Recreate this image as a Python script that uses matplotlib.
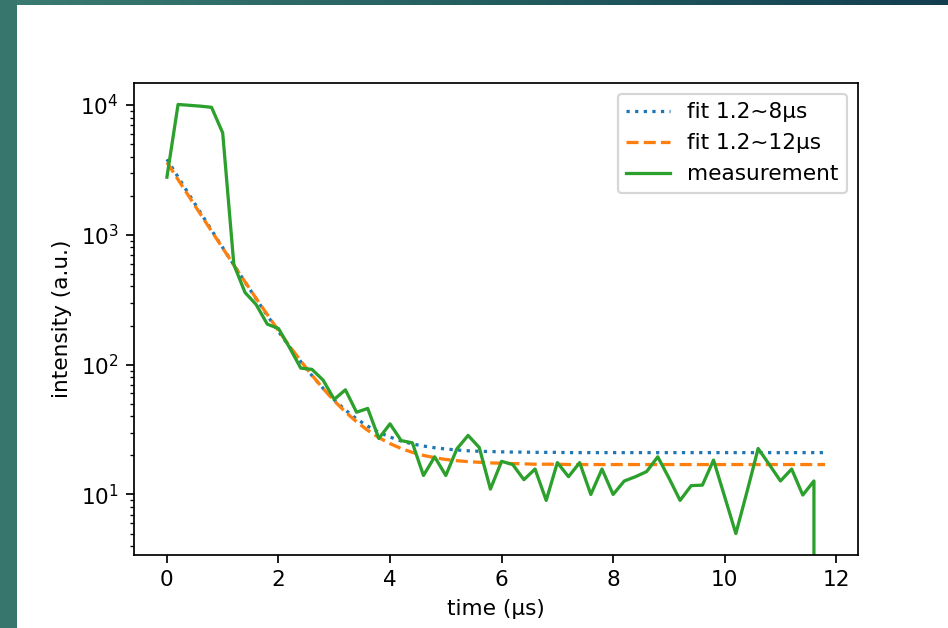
import numpy as np
import matplotlib
matplotlib.use("Agg")
import matplotlib.pyplot as plt
from matplotlib.patches import Rectangle

# time grid of the measurement (µs), 0.2 µs steps
time = np.linspace(0, 11.8, 60)

measurement = [2780, 10100, 9950, 9800, 9600, 6100, 590, 360, 290, 205,
               190, 135, 94, 92, 76, 54, 64, 43, 46, 27,
               35, 26, 25, 14, 19.5, 14, 22.5, 28.5, 23, 11,
               18, 17, 13, 15.7, 9, 17.6, 13.7, 17.6, 10, 15.7,
               10, 12.7, 13.7, 15, 19.5, 13.4, 9, 11.7, 11.8, 18.4,
               9.6, 5, 10.5, 22.6, 17, 12.7, 15.7, 9.9, 12.7, 0]

fit_8 = [3821, 2787, 2035, 1487, 1088, 798, 587, 433, 321, 239,
         180, 137, 105.3, 82.4, 65.7, 53.5, 44.7, 38.2, 33.6, 30.1,
         27.7, 25.8, 24.5, 23.6, 22.9, 22.4, 22.0, 21.7, 21.5, 21.4,
         21.3, 21.2, 21.2, 21.1, 21.1, 21.1, 21.0, 21.0, 21.0, 21.0,
         21.0, 21.0, 21.0, 21.0, 21.0, 21.0, 21.0, 21.0, 21.0, 21.0,
         21.0, 21.0, 21.0, 21.0, 21.0, 21.0, 21.0, 21.0, 21.0, 21.0]

fit_12 = [3617, 2663, 1962, 1447, 1068, 790, 585, 435, 324, 243,
          183, 139, 106.7, 82.9, 65.5, 52.6, 43.2, 36.3, 31.2, 27.4,
          24.65, 22.6, 21.1, 20.0, 19.2, 18.6, 18.2, 17.9, 17.7, 17.5,
          17.4, 17.3, 17.2, 17.1, 17.1, 17.1, 17.0, 17.0, 17.0, 17.0,
          17.0, 17.0, 17.0, 17.0, 17.0, 17.0, 17.0, 17.0, 17.0, 17.0,
          17.0, 17.0, 17.0, 17.0, 17.0, 17.0, 17.0, 17.0, 17.0, 17.0]

dpi = 156
fig = plt.figure(figsize=(948 / dpi, 628 / dpi), dpi=dpi)

# slide frame: teal strip on the left, gradient band on top
fig.patches.append(Rectangle((0, 0), 17 / 948, 1, transform=fig.transFigure,
                             facecolor="#37766d", edgecolor="none", zorder=0))
band = fig.add_axes([0, 1 - 5 / 628, 1, 5 / 628])
grad = np.linspace(0, 1, 256).reshape(1, -1)
band.imshow(grad, aspect="auto",
            cmap=matplotlib.colors.LinearSegmentedColormap.from_list(
                "teal", ["#3b7b71", "#245e60", "#133e50"]))
band.axis("off")

ax = fig.add_axes([134 / 948, 73 / 628, 724 / 948, 472 / 628])
ax.plot(time, fit_8, ":", color="C0", label="fit 1.2~8µs")
ax.plot(time, fit_12, "--", color="C1", label="fit 1.2~12µs")
ax.plot(time, measurement, "-", color="C2", label="measurement")
ax.set_yscale("log")
ax.set_xlabel("time (µs)")
ax.set_ylabel("intensity (a.u.)")
ax.legend(loc="upper right")

fig.savefig("out.png", dpi=dpi)
